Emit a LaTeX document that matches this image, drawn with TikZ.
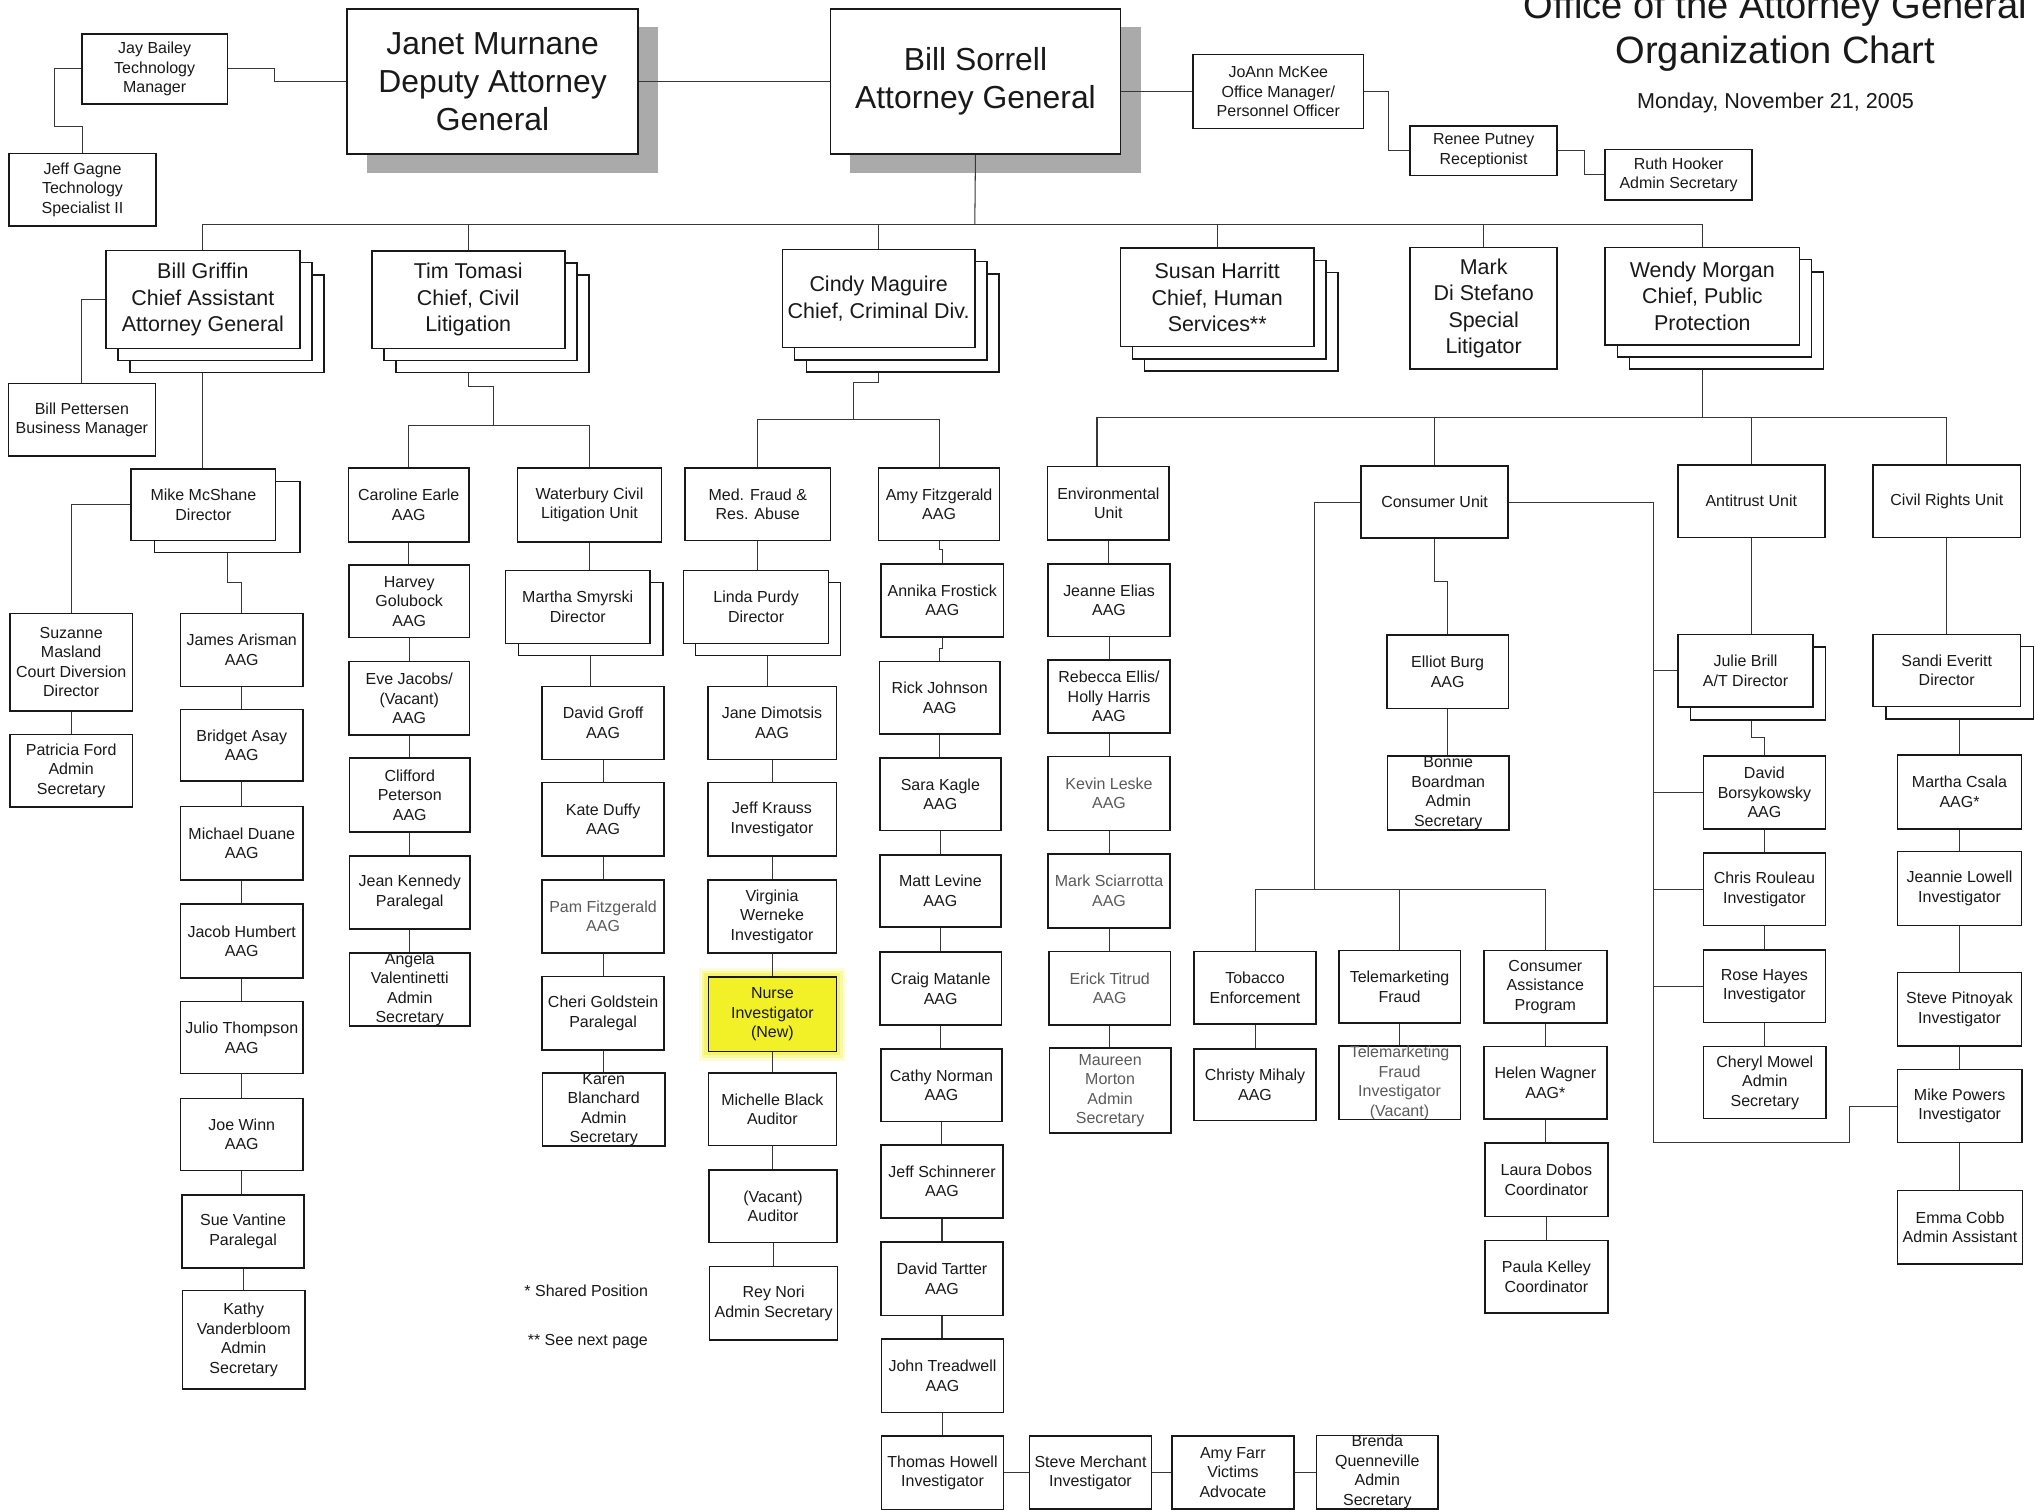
\documentclass[tikz,border=0pt]{standalone}
\usepackage{fontspec}
\setmainfont{Liberation Sans}
\usetikzlibrary{calc}
\pgfdeclarelayer{bgl}\pgfdeclarelayer{shl}\pgfdeclarelayer{lnl}
\pgfsetlayers{bgl,shl,lnl,main}
\definecolor{ink}{RGB}{25,25,25}
\definecolor{lnc}{RGB}{55,55,55}
\definecolor{gtx}{RGB}{90,90,90}
\definecolor{hl}{RGB}{242,240,38}
\definecolor{shd}{RGB}{170,170,170}
\tikzset{
 box/.style={draw=ink,line width=1.2pt,fill=white,inner sep=0pt,outer sep=0pt,align=center,text=ink,font=\fontsize{12.3}{15}\selectfont},
 big/.style={font=\fontsize{24.5}{29.5}\selectfont},
 chief/.style={font=\fontsize{16.5}{20.3}\selectfont},
 grayt/.style={text=gtx},
 ln/.style={draw=lnc,line width=0.8pt},
 ttl/.style={anchor=base,font=\fontsize{29.3}{35}\selectfont,text=ink},
}
\newcommand\bx[7][]{%
  \pgfmathsetmacro\bxcx{((#3)+(#5))/2}%
  \pgfmathsetmacro\bxcy{((#4)+(#6))/2}%
  \pgfmathsetmacro\bxw{(#5)-(#3)}%
  \pgfmathsetmacro\bxh{(#6)-(#4)}%
  \node[box,minimum width=\bxw pt,minimum height=\bxh pt,#1] (#2) at (\bxcx,\bxcy) {#7};%
}
\newcommand\stk[6]{%
  \bx{#1C}{(#2)+2*(#6)}{(#3)+2*(#6)}{(#4)+2*(#6)}{(#5)+2*(#6)}{}%
  \bx{#1B}{(#2)+(#6)}{(#3)+(#6)}{(#4)+(#6)}{(#5)+(#6)}{}%
}
\newcommand\vl[2]{\draw[ln] (#1.south) -- (#1.south |- #2.north);}
\begin{document}
\begin{tikzpicture}[x=1pt,y=-1pt]
\useasboundingbox (0,0) rectangle (1568,1163);
\begin{pgfonlayer}{bgl}
\fill[white] (0,0) rectangle (1568,1163);
\end{pgfonlayer}

% ---------- title ----------
\node[ttl] (title1) at (1366,14) {Office of the Attorney General};
\node[ttl] (title2) at (1366,48.7) {Organization Chart};
\node[anchor=base,font=\fontsize{16.6}{20}\selectfont,text=ink] (date) at (1366,83.3) {Monday, November 21, 2005};

% ---------- top row ----------
\bx{jay}{63}{26}{175}{80}{Jay Bailey\\Technology\\Manager}
\bx{gagne}{7}{118}{120}{174}{Jeff Gagne\\Technology\\Specialist II}
\bx[big]{janet}{267}{7}{491}{118.5}{Janet Murnane\\Deputy Attorney\\General}
\bx[big]{sorrell}{639}{7}{862}{118.5}{Bill Sorrell\\Attorney General}
\bx{joann}{918}{42}{1049}{99}{JoAnn McKee\\Office Manager/\\Personnel Officer}
\bx{renee}{1085}{97}{1198}{135}{Renee Putney\\Receptionist}
\bx{ruth}{1235}{115}{1348}{154}{Ruth Hooker\\Admin Secretary}

% ---------- chiefs ----------
\stk{griffin}{81.4}{192.8}{230.8}{268}{9.3}
\bx[chief]{griffin}{81.4}{192.8}{230.8}{268}{Bill Griffin\\Chief Assistant\\Attorney General}
\stk{tomasi}{286}{193}{434.5}{268}{9.3}
\bx[chief]{tomasi}{286}{193}{434.5}{268}{Tim Tomasi\\Chief, Civil\\Litigation}
\stk{maguire}{602}{192}{750}{267.5}{9.3}
\bx[chief]{maguire}{602}{192}{750}{267.5}{Cindy Maguire\\Chief, Criminal Div.}
\stk{harritt}{862}{191}{1011}{266.7}{9.3}
\bx[chief]{harritt}{862}{191}{1011}{266.7}{Susan Harritt\\Chief, Human\\Services**}
\bx[chief]{distefano}{1085}{190.5}{1198}{284}{Mark\\Di Stefano\\Special\\Litigator}
\stk{morgan}{1235}{190.5}{1384.5}{265.4}{9.3}
\bx[chief]{morgan}{1235}{190.5}{1384.5}{265.4}{Wendy Morgan\\Chief, Public\\Protection}

% ---------- Griffin branch ----------
\bx{pettersen}{6.5}{295}{119.5}{351}{Bill Pettersen\\Business Manager}
\bx{mcshaneS}{119}{370.5}{231}{425}{}
\bx{mcshane}{101}{361}{212}{416}{Mike McShane\\Director}
\bx{masland}{7.5}{472}{102}{547}{Suzanne\\Masland\\Court Diversion\\Director}
\bx{ford}{7.5}{565}{102}{621}{Patricia Ford\\Admin\\Secretary}
\bx{arisman}{139}{472}{233}{528}{James Arisman\\AAG}
\bx{asay}{139}{546}{233}{601}{Bridget Asay\\AAG}
\bx{duane}{139}{620.5}{233}{677}{Michael Duane\\AAG}
\bx{humbert}{139}{695.5}{233}{752.5}{Jacob Humbert\\AAG}
\bx{thompson}{139}{770.5}{233}{826}{Julio Thompson\\AAG}
\bx{winn}{139}{845}{233}{900.5}{Joe Winn\\AAG}
\bx{vantine}{140}{919.5}{234}{975.5}{Sue Vantine\\Paralegal}
\bx{vanderbloom}{140.5}{993}{234.5}{1068.7}{Kathy\\Vanderbloom\\Admin\\Secretary}

% ---------- Tomasi branch ----------
\bx{earle}{268}{360}{361}{417}{Caroline Earle\\AAG}
\bx{golubock}{268.5}{434.6}{361.2}{490.3}{Harvey\\Golubock\\AAG}
\bx{jacobs}{268.5}{509}{361.2}{565.6}{Eve Jacobs/\\(Vacant)\\AAG}
\bx{peterson}{269}{583.3}{361.5}{640}{Clifford\\Peterson\\AAG}
\bx{kennedy}{269}{658.5}{361.5}{714.6}{Jean Kennedy\\Paralegal}
\bx{valentinetti}{269}{733.3}{361.5}{789.2}{Angela\\Valentinetti\\Admin\\Secretary}
\bx{waterbury}{398}{360}{509}{417}{Waterbury Civil\\Litigation Unit}
\bx{smyrskiS}{399}{448}{510}{504.4}{}
\bx{smyrski}{389}{439}{500}{495}{Martha Smyrski\\Director}
\bx{groff}{417}{528}{511}{584.5}{David Groff\\AAG}
\bx{duffy}{417}{602}{511}{658.5}{Kate Duffy\\AAG}
\bx[grayt]{pfitz}{417}{677}{511}{733.3}{Pam Fitzgerald\\AAG}
\bx{goldstein}{417}{751.3}{511}{807.7}{Cheri Goldstein\\Paralegal}
\bx{blanchard}{417.5}{825.6}{511.5}{881.5}{Karen\\Blanchard\\Admin\\Secretary}

% ---------- Maguire branch ----------
\bx{medfraud}{527}{360}{639}{416}{Med. Fraud \&\\Res. Abuse}
\bx{purdyS}{535}{448}{646.5}{504.4}{}
\bx{purdy}{526}{439}{637.5}{495}{Linda Purdy\\Director}
\bx{dimotsis}{544.5}{528}{643.5}{584.5}{Jane Dimotsis\\AAG}
\bx{krauss}{544.5}{602}{643.5}{658.5}{Jeff Krauss\\Investigator}
\bx{werneke}{544.5}{677}{643.5}{733.3}{Virginia\\Werneke\\Investigator}
\bx[fill=hl]{nurse}{545}{751.8}{643.5}{809}{Nurse\\Investigator\\(New)}
\bx{black}{545}{825.6}{643.5}{881.3}{Michelle Black\\Auditor}
\bx{vacaud}{545.5}{900}{644}{956}{(Vacant)\\Auditor}
\bx{nori}{546}{974.4}{644.5}{1030.8}{Rey Nori\\Admin Secretary}
\bx{afitz}{676}{360}{769}{416}{Amy Fitzgerald\\AAG}
\bx{frostick}{678}{434}{772}{490}{Annika Frostick\\AAG}
\bx{johnson}{676.5}{509}{769.5}{564.6}{Rick Johnson\\AAG}
\bx{kagle}{677}{583}{770}{639}{Sara Kagle\\AAG}
\bx{levine}{677}{657.7}{770}{713.3}{Matt Levine\\AAG}
\bx{matanle}{677}{732.6}{770.5}{788.5}{Craig Matanle\\AAG}
\bx{norman}{677.7}{807.2}{771}{862.8}{Cathy Norman\\AAG}
\bx{schinnerer}{678}{880.8}{771.5}{937.2}{Jeff Schinnerer\\AAG}
\bx{tartter}{678}{955.6}{771.5}{1012}{David Tartter\\AAG}
\bx{treadwell}{678.3}{1030.3}{772}{1086.7}{John Treadwell\\AAG}
\bx{howell}{678.3}{1105}{772}{1161.5}{Thomas Howell\\Investigator}
\bx{merchant}{792}{1105}{886}{1161}{Steve Merchant\\Investigator}
\bx{farr}{901.5}{1104.6}{995.6}{1161}{Amy Farr\\Victims\\Advocate}
\bx{quenneville}{1013}{1104.6}{1106.3}{1160.5}{Brenda\\Quenneville\\Admin\\Secretary}

% ---------- Morgan branch ----------
\bx{env}{806}{359}{899.5}{415.4}{Environmental\\Unit}
\bx{elias}{806.5}{433.8}{900}{489.7}{Jeanne Elias\\AAG}
\bx{ellis}{806.5}{507.7}{900}{564.1}{Rebecca Ellis/\\Holly Harris\\AAG}
\bx[grayt]{leske}{806.5}{582}{900}{639}{Kevin Leske\\AAG}
\bx[grayt]{sciarrotta}{806.5}{657}{900}{714}{Mark Sciarrotta\\AAG}
\bx[grayt]{titrud}{807}{732}{900.5}{788.5}{Erick Titrud\\AAG}
\bx[grayt]{morton}{807.4}{806.4}{900.8}{871.8}{Maureen\\Morton\\Admin\\Secretary}

\bx{consumer}{1047.3}{358.5}{1160.2}{414}{Consumer Unit}
\bx{burg}{1067}{488.5}{1160.6}{545}{Elliot Burg\\AAG}
\bx{boardman}{1067.5}{581.5}{1161}{638.5}{Bonnie\\Boardman\\Admin\\Secretary}
\bx{tobacco}{918.7}{732}{1012.5}{788}{Tobacco\\Enforcement}
\bx{mihaly}{918.7}{807.2}{1012.5}{862}{Christy Mihaly\\AAG}
\bx{telem}{1030}{731.3}{1123.5}{787.2}{Telemarketing\\Fraud}
\bx[grayt]{telinv}{1030}{805.1}{1123.5}{861}{Telemarketing\\Fraud\\Investigator\\(Vacant)}
\bx{cap}{1141.7}{731.3}{1236.2}{787.2}{Consumer\\Assistance\\Program}
\bx{wagner}{1141.7}{805.1}{1236.2}{861}{Helen Wagner\\AAG*}
\bx{dobos}{1142.5}{879.5}{1237}{936}{Laura Dobos\\Coordinator}
\bx{kelley}{1142.5}{954.4}{1237}{1010.3}{Paula Kelley\\Coordinator}

\bx{antitrust}{1290.8}{357.7}{1404}{413.6}{Antitrust Unit}
\bx{brillS}{1300.5}{497.8}{1404.4}{553.8}{}
\bx{brill}{1291}{488}{1395}{544}{Julie Brill\\A/T Director}
\bx{borsy}{1310.6}{581.5}{1404.4}{637.7}{David\\Borsykowsky\\AAG}
\bx{rouleau}{1310.6}{656.4}{1404.4}{712.1}{Chris Rouleau\\Investigator}
\bx{hayes}{1310.6}{730.8}{1404.4}{786.7}{Rose Hayes\\Investigator}
\bx{mowel}{1310.6}{805.1}{1405}{860.5}{Cheryl Mowel\\Admin\\Secretary}

\bx{civil}{1441.2}{357.7}{1554.5}{413.6}{Civil Rights Unit}
\bx{everittS}{1451}{497.4}{1564.5}{553}{}
\bx{everitt}{1441}{488}{1554.5}{543.6}{Sandi Everitt\\Director}
\bx{csala}{1460}{580.8}{1555.2}{637.7}{Martha Csala\\AAG*}
\bx{lowell}{1460}{655.1}{1555.2}{712.1}{Jeannie Lowell\\Investigator}
\bx{pitnoyak}{1460}{748.2}{1555.2}{804.6}{Steve Pitnoyak\\Investigator}
\bx{powers}{1460}{823}{1555.5}{879}{Mike Powers\\Investigator}
\bx{cobb}{1460}{916}{1556}{972.5}{Emma Cobb\\Admin Assistant}

% ---------- footnotes ----------
\node[anchor=base west,font=\fontsize{12.3}{15}\selectfont,text=ink] (fn1) at (400,997.5) {* Shared Position};
\node[anchor=base west,font=\fontsize{12.3}{15}\selectfont,text=ink] (fn2) at (402.6,1035) {** See next page};

% ---------- shadows and highlight ----------
\begin{pgfonlayer}{shl}
\fill[shd] (282,20.5) rectangle (506,133);
\fill[shd] (653.6,20.5) rectangle (877.6,133);
\foreach \g/\o in {7/0.18,5/0.28,3/0.45}
  \fill[hl,opacity=\o] ([shift={(-\g,-\g)}]nurse.north west) rectangle ([shift={(\g,\g)}]nurse.south east);
\end{pgfonlayer}

% ---------- connectors ----------
\begin{pgfonlayer}{lnl}
\draw[ln] (jay.east) -- ++(36,0) |- (janet.west);
\draw[ln] (jay.west) -- ++(-21,0) -- ++(0,44) -| (gagne.north);
\draw[ln] (janet.east) -- (sorrell.west);
\draw[ln] (sorrell.east |- joann.west) -- (joann.west);
\draw[ln] (joann.east) -- ++(19,0) |- (renee.west);
\draw[ln] (renee.east) -- ++(21,0) |- (ruth.west);

\coordinate (topbus) at (750,173);
\draw[ln] (sorrell.south) -- (topbus);
\draw[ln] (griffin.north) |- (topbus) -| (morgan.north);
\draw[ln] (tomasi.north) -- (tomasi.north |- topbus);
\draw[ln] (maguire.north) -- (maguire.north |- topbus);
\draw[ln] (harritt.north) -- (harritt.north |- topbus);
\draw[ln] (distefano.north) -- (distefano.north |- topbus);

% Griffin
\draw[ln] (griffin.west) -| (pettersen.north);
\draw[ln] (griffin.south) -- (griffin.south |- mcshane.north);
\draw[ln] (mcshane.west) -| (masland.north);
\vl{masland}{ford}
\draw[ln] (mcshaneS.south) -- ++(0,23.5) -| (arisman.north);
\vl{arisman}{asay} \vl{asay}{duane} \vl{duane}{humbert} \vl{humbert}{thompson}
\vl{thompson}{winn} \vl{winn}{vantine} \vl{vantine}{vanderbloom}

% Tomasi
\coordinate (tjog) at (379.5,297.4);
\coordinate (tbus) at (379.5,327);
\draw[ln] (tomasi.south) |- (tjog) -- (tbus);
\draw[ln] (earle.north) |- (tbus) -| (waterbury.north);
\vl{earle}{golubock} \vl{golubock}{jacobs} \vl{jacobs}{peterson} \vl{peterson}{kennedy} \vl{kennedy}{valentinetti}
\draw[ln] (waterbury.south) -- (waterbury.south |- smyrski.north);
\vl{smyrskiS}{groff}
\vl{groff}{duffy} \vl{duffy}{pfitz} \vl{pfitz}{goldstein} \vl{goldstein}{blanchard}

% Maguire
\coordinate (mjog) at (657,294.4);
\coordinate (mbus) at (657,322.6);
\draw[ln] (maguire.south) |- (mjog) -- (mbus);
\draw[ln] (medfraud.north) |- (mbus) -| (afitz.north);
\draw[ln] (medfraud.south) -- (medfraud.south |- purdy.north);
\vl{purdyS}{dimotsis}
\vl{dimotsis}{krauss} \vl{krauss}{werneke} \vl{werneke}{nurse} \vl{nurse}{black} \vl{black}{vacaud} \vl{vacaud}{nori}
\draw[ln] (afitz.south) -- ++(0,7) -| (frostick.north);
\draw[ln] (frostick.south) -- ++(0,9) -| (johnson.north);
\vl{johnson}{kagle} \vl{kagle}{levine} \vl{levine}{matanle} \vl{matanle}{norman} \vl{norman}{schinnerer}
\vl{schinnerer}{tartter} \vl{tartter}{treadwell} \vl{treadwell}{howell}
\draw[ln] (howell.east) -- (howell.east -| merchant.west);
\draw[ln] (merchant.east) -- (merchant.east -| farr.west);
\draw[ln] (farr.east) -- (farr.east -| quenneville.west);

% Morgan
\coordinate (pbus) at (1309.75,321);
\coordinate (envdrop) at (844,359);
\draw[ln] (morgan.south) -- (pbus);
\draw[ln] (envdrop) |- (pbus) -| (civil.north);
\draw[ln] (consumer.north) -- (consumer.north |- pbus);
\draw[ln] (antitrust.north) -- (antitrust.north |- pbus);
\vl{env}{elias} \vl{elias}{ellis} \vl{ellis}{leske} \vl{leske}{sciarrotta} \vl{sciarrotta}{titrud} \vl{titrud}{morton}

% Consumer unit
\coordinate (cv) at (1272,386.25);
\coordinate (cb) at (1272,879);
\coordinate (cb2) at (1423.3,879);
\draw[ln] (consumer.east) -- (cv) -- (cb) -- (cb2) |- (powers.west);
\draw[ln] (cv |- brill.west) -- (brill.west);
\draw[ln] (cv |- borsy.west) -- (borsy.west);
\draw[ln] (cv |- rouleau.west) -- (rouleau.west);
\draw[ln] (cv |- hayes.west) -- (hayes.west);
\coordinate (cl) at (1011.4,684.6);
\draw[ln] (consumer.west) -| (cl);
\draw[ln] (tobacco.north) |- (cl) -| (cap.north);
\draw[ln] (telem.north) -- (telem.north |- cl);
\draw[ln] (consumer.south) -- ++(0,33.4) -| (burg.north);
\vl{burg}{boardman}
\vl{tobacco}{mihaly} \vl{telem}{telinv}
\vl{cap}{wagner} \vl{wagner}{dobos} \vl{dobos}{kelley}

% Antitrust
\draw[ln] (antitrust.south) -- (antitrust.south |- brill.north);
\draw[ln] (brillS.south -| antitrust.south) -- ++(0,13.4) -| (borsy.north);
\vl{borsy}{rouleau} \vl{rouleau}{hayes} \vl{hayes}{mowel}

% Civil rights
\draw[ln] (civil.south) -- (civil.south |- everitt.north);
\vl{everittS}{csala}
\vl{csala}{lowell} \vl{lowell}{pitnoyak} \vl{pitnoyak}{powers} \vl{powers}{cobb}
\end{pgfonlayer}
\end{tikzpicture}
\end{document}
